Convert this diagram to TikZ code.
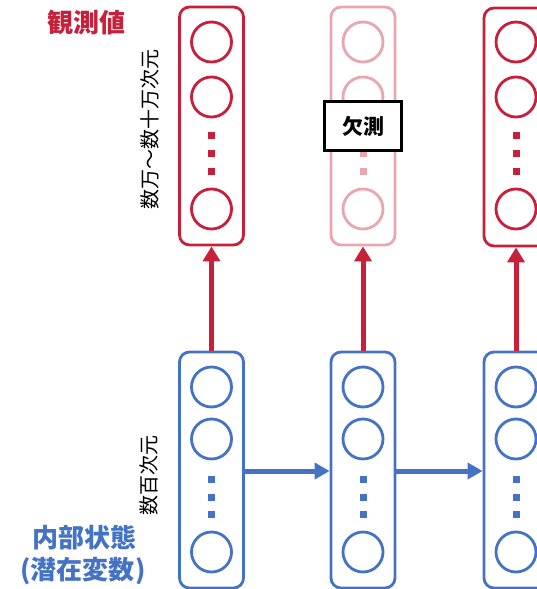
\documentclass[tikz,border=0pt]{standalone}
\usepackage{fontspec}
\newfontfamily\jp{Noto Sans CJK JP}
\usetikzlibrary{arrows.meta}
\definecolor{obsred}{RGB}{200,32,58}
\definecolor{obspink}{RGB}{234,166,176}
\definecolor{latblue}{RGB}{68,114,196}
\tikzset{
  colbox/.style={draw=#1, line width=2.8pt, rounded corners=10pt, minimum width=64pt, inner sep=0pt, fill=white},
  unit/.style={circle, draw=#1, line width=2.8pt, minimum size=40pt, inner sep=0pt},
  dotsq/.style={fill=#1, minimum size=7pt, inner sep=0pt, draw=none, rectangle},
  redarrow/.style={draw=obsred, line width=5pt, -{Triangle[length=15pt,width=17pt]}},
  bluearrow/.style={draw=latblue, line width=5pt, -{Triangle[length=15pt,width=16pt]}},
  missbox/.style={draw=black, line width=3pt, fill=white, minimum width=77pt, minimum height=49pt, inner sep=0pt},
  biglabel/.style={font=\jp\bfseries\fontsize{26}{28}\selectfont, text=#1},
  dimlabel/.style={font=\jp\fontsize{20}{22}\selectfont, rotate=90}
}
\begin{document}
\begin{tikzpicture}[x=1pt,y=-1pt]
\useasboundingbox (0,0) rectangle (537,589);
\clip (0,0) rectangle (537,589);
% column boxes
\node[colbox=obsred, minimum height=238pt] (t1) at (211.5,126) {};
\node[colbox=obspink, minimum height=238pt] (t2) at (363,126) {};
\node[colbox=obsred, minimum height=238pt] (t3) at (516,127) {};
\node[colbox=latblue, minimum height=236pt] (b1) at (211.5,470) {};
\node[colbox=latblue, minimum height=236pt] (b2) at (363,470) {};
\node[colbox=latblue, minimum height=236pt] (b3) at (516,470) {};
% units in observed boxes
\foreach \x/\c/\n in {211.5/obsred/1, 363/obspink/2, 516/obsred/3}{
  \node[unit=\c] (t\n a) at (\x,42) {};
  \node[unit=\c] (t\n b) at (\x,97) {};
  \node[unit=\c] (t\n c) at (\x,209) {};
  \node[dotsq=\c] (t\n d1) at (\x,135) {};
  \node[dotsq=\c] (t\n d2) at (\x,153) {};
  \node[dotsq=\c] (t\n d3) at (\x,171) {};
}
% units in latent boxes
\foreach \x/\n in {211.5/1, 363/2, 516/3}{
  \node[unit=latblue] (b\n a) at (\x,387) {};
  \node[unit=latblue] (b\n b) at (\x,439) {};
  \node[unit=latblue] (b\n c) at (\x,552) {};
  \node[dotsq=latblue] (b\n d1) at (\x,479) {};
  \node[dotsq=latblue] (b\n d2) at (\x,497) {};
  \node[dotsq=latblue] (b\n d3) at (\x,514) {};
}
% missing label
\node[missbox, font=\jp\bfseries\fontsize{21}{24}\selectfont] (miss) at (363,126) {欠測};
% arrows
\draw[redarrow] (b1.north) -- (t1.south);
\draw[redarrow] (b2.north) -- (t2.south);
\draw[redarrow] (b3.north) -- (t3.south);
\draw[bluearrow] (b1.east |- 0,471) coordinate (h1s) -- (b2.west |- 0,471) coordinate (h1e);
\draw[bluearrow] (b2.east |- 0,471) coordinate (h2s) -- (b3.west |- 0,471) coordinate (h2e);
% labels
\node[biglabel=obsred] (obs) at (86,23) {観測値};
\node[biglabel=latblue] (lat1) at (84,538) {内部状態};
\node[biglabel=latblue] (lat2) at (83,571) {(潜在変数)};
\node[dimlabel] (dimobs) at (150,129) {数万〜数十万次元};
\node[dimlabel] (dimlat) at (149,475) {数百次元};
\end{tikzpicture}
\end{document}
